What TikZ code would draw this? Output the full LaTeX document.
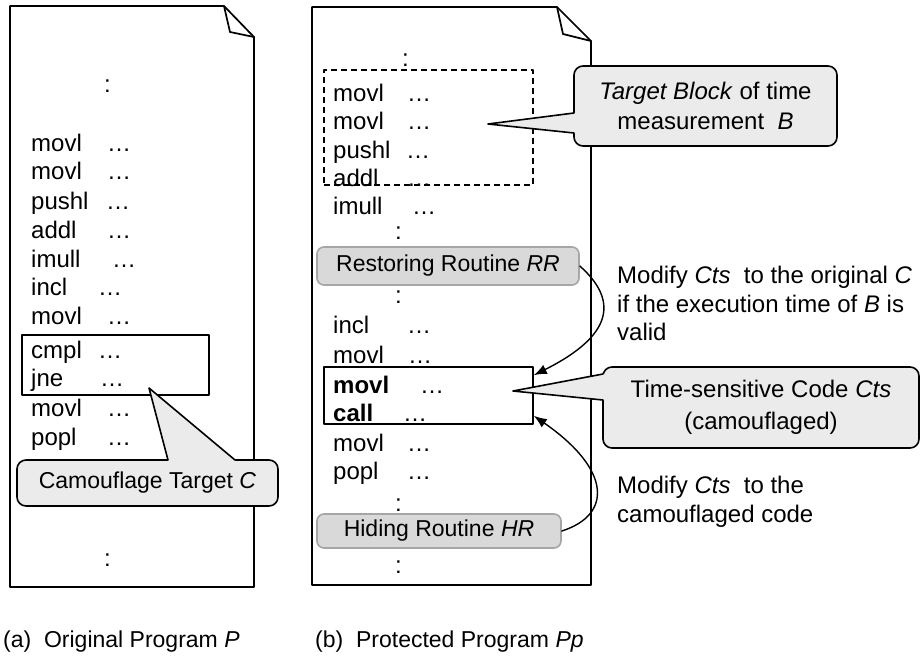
\documentclass[tikz,border=0pt]{standalone}
\usepackage{fontspec}
\setmainfont{Liberation Sans}
\usetikzlibrary{arrows.meta,positioning}
\definecolor{calloutGray}{HTML}{EBEBEB}
\definecolor{routineGray}{HTML}{D9D9D9}
\definecolor{routineEdge}{HTML}{A6A6A6}
\newcommand{\instr}[2]{\makebox[#2][l]{#1}\ldots}
\begin{document}
\begin{tikzpicture}[x=1pt,y=-1pt,>=Latex,line cap=round,line join=round]
\useasboundingbox[fill=white] (0,0) rectangle (921,664);
\tikzset{code/.style={anchor=west,inner sep=0pt,text height=17pt,text depth=5pt,font=\fontsize{24}{28}\selectfont},page/.style={draw=black,line width=1.7pt},frame/.style={draw=black,line width=1.6pt,inner sep=0pt,minimum width=209pt},callbox/.style={draw=black,fill=calloutGray,line width=1.6pt,rounded corners=9pt,inner sep=0pt,align=center},callline/.style={draw=black,line width=1.6pt},routine/.style={draw=routineEdge,fill=routineGray,line width=1.6pt,rounded corners=7pt,inner sep=0pt,font=\fontsize{23}{28}\selectfont},flow/.style={draw=black,line width=1.4pt,-{Latex[length=13pt,width=10pt]}},note/.style={anchor=north west,align=left,inner sep=0pt,font=\fontsize{24}{28.5}\selectfont}}
% (a) original program
\path[page] (10,6) -- (224,6) -- (254,37) -- (254,587) -- (10,587) -- cycle;
\path[page] (224,6) -- (230,32) -- (254,37);
\node[code] (colA1) at (104,86) {:};
\node[code] (a1) at (31,145) {\instr{movl}{76pt}};
\node[code] (a2) at (31,173) {\instr{movl}{76pt}};
\node[code] (a3) at (31,203) {\instr{pushl}{75pt}};
\node[code] (a4) at (31,232) {\instr{addl}{76pt}};
\node[code] (a5) at (31,261) {\instr{imull}{81pt}};
\node[code] (a6) at (31,289) {\instr{incl}{67pt}};
\node[code] (a7) at (31,318) {\instr{movl}{76pt}};
\node[code] (a8) at (31,352) {\instr{cmpl}{67pt}};
\node[code] (a9) at (31,380) {\instr{jne}{69pt}};
\node[code] (a10) at (31,410) {\instr{movl}{76pt}};
\node[code] (a11) at (31,439) {\instr{popl}{76pt}};
\node[code] (colA2) at (104,560) {:};
\node[frame,minimum width=187pt,minimum height=60pt] (target) at (115.5,365) {};
% camouflage target callout
\node[callbox,minimum width=261pt,minimum height=46pt,font=\fontsize{23}{28}\selectfont] (camo) at (147.5,483) {Camouflage Target \textit{C}};
\coordinate (camoTip) at (149,388);
\fill[calloutGray] (168,460) -- (camoTip) -- (235,460) -- (235,464) -- (168,464) -- cycle;
\draw[callline] (168,460) -- (camoTip) -- (235,460);
% (b) protected program
\path[page] (312,7) -- (557,7) -- (591,41) -- (591,585) -- (312,585) -- cycle;
\path[page] (557,7) -- (563,34) -- (591,41);
\node[code] (colB1) at (402,60) {:};
\node[code] (b1) at (333,95) {\instr{movl}{74pt}};
\node[code] (b2) at (333,123) {\instr{movl}{74pt}};
\node[code] (b3) at (333,152) {\instr{pushl}{73pt}};
\node[code] (b4) at (333,180) {\instr{addl}{74pt}};
\node[code] (b5) at (333,208) {\instr{imull}{79pt}};
\node[code] (colB2) at (395,233) {:};
\node[routine,minimum width=262pt,minimum height=38pt] (rr) at (448,266) {Restoring Routine \textit{RR}};
\node[code] (colB3) at (395,297) {:};
\node[code] (b6) at (333,327) {\instr{incl}{74pt}};
\node[code] (b7) at (333,357) {\instr{movl}{75pt}};
\node[code] (b8) at (333,387) {\instr{\textbf{movl}}{87pt}};
\node[code] (b9) at (333,415) {\instr{\textbf{call}}{70pt}};
\node[code] (b10) at (333,445) {\instr{movl}{74pt}};
\node[code] (b11) at (333,473) {\instr{popl}{74pt}};
\node[code] (colB4) at (395,505) {:};
\node[routine,minimum width=244pt,minimum height=34pt] (hr) at (439,531) {Hiding Routine \textit{HR}};
\node[code] (colB5) at (395,567) {:};
\node[frame,dashed,line cap=butt,dash pattern=on 6pt off 4pt,minimum height=115pt] (block) at (428.5,127.5) {};
\node[frame,minimum height=57pt] (tsbox) at (428.5,395.5) {};
% callouts on the right
\node[callbox,minimum width=263pt,minimum height=80pt,font=\fontsize{24}{30}\selectfont] (tblock) at (705.5,106) {\textit{Target Block} of time\\measurement\ \ \textit{B}};
\coordinate (tblockTip) at (488,124);
\fill[calloutGray] (574,113) -- (tblockTip) -- (574,133) -- (578,133) -- (578,113) -- cycle;
\draw[callline] (574,113) -- (tblockTip) -- (574,133);
\node[callbox,minimum width=316pt,minimum height=81pt,font=\fontsize{24}{32}\selectfont] (cts) at (761,407.5) {Time-sensitive Code \textit{Cts}\\(camouflaged)};
\coordinate (ctsTip) at (513,391);
\fill[calloutGray] (603,374) -- (ctsTip) -- (603,400) -- (607,400) -- (607,374) -- cycle;
\draw[callline] (603,374) -- (ctsTip) -- (603,400);
% modifications
\draw[flow] (rr.east) .. controls (618,300) and (614,335) .. ([yshift=-9pt]tsbox.north east);
\draw[flow] (hr.east) .. controls (612,515) and (612,470) .. ([yshift=9pt]tsbox.south east);
\node[note] (noteRR) at (617,266) {Modify \textit{Cts}\ \ to the original \textit{C}\\if the execution time of \textit{B} is\\valid};
\node[note] (noteHR) at (617,476) {Modify \textit{Cts}\ \ to the\\camouflaged code};
% captions
\node[anchor=west,inner sep=0pt,font=\fontsize{23}{28}\selectfont] (capA) at (3,642) {(a)\ \ Original Program \textit{P}};
\node[anchor=west,inner sep=0pt,font=\fontsize{23}{28}\selectfont] (capB) at (315,642) {(b)\ \ Protected Program \textit{Pp}};
\end{tikzpicture}
\end{document}
